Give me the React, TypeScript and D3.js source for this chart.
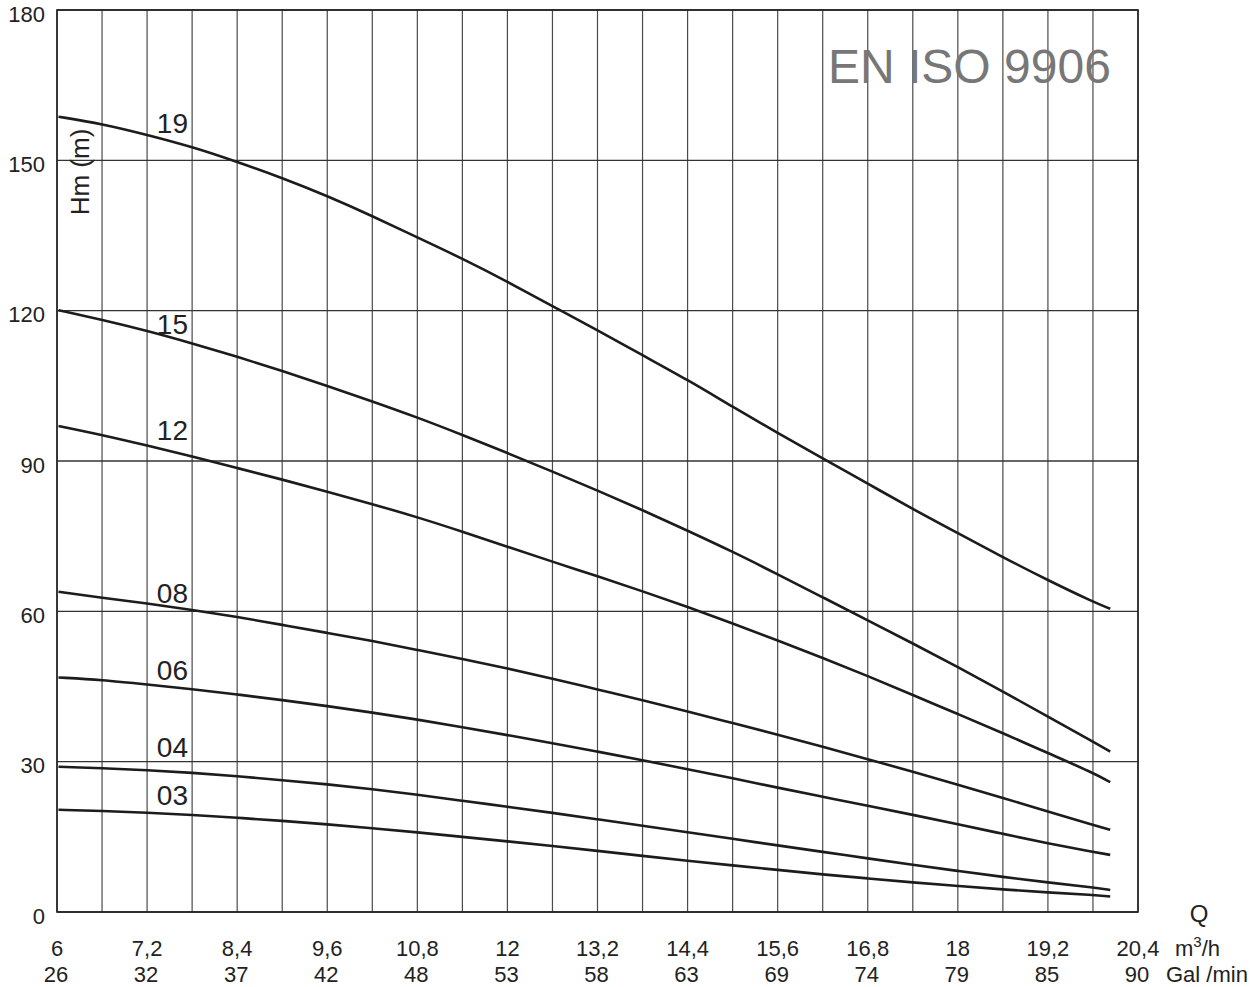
import React from 'react'
import * as d3 from 'd3'

// flow points (m3/h) at which the curves were read
const flow = [6.02, 6.6, 7.2, 7.8, 8.4, 9, 9.6, 10.2, 10.8, 11.4, 12, 12.6, 13.2, 13.8, 14.4, 15, 15.6, 16.2, 16.8, 17.4, 18, 18.6, 19.2, 19.8, 20.03]

const h19 = [158.7, 157.3, 155.1, 152.7, 149.7, 146.5, 142.9, 138.9, 134.6, 130.4, 125.8, 120.9, 116.1, 111.1, 106.2, 100.8, 95.6, 90.5, 85.5, 80.4, 75.6, 70.8, 66.2, 61.9, 60.5]
const h15 = [120.1, 118.2, 116, 113.5, 110.8, 108, 105, 101.9, 98.7, 95.2, 91.6, 87.9, 84.1, 80.2, 76.1, 71.9, 67.4, 62.8, 58.2, 53.6, 48.9, 44, 39, 34, 32]
const h12 = [97, 95.2, 93.1, 90.9, 88.6, 86.3, 83.9, 81.4, 78.8, 75.9, 72.9, 69.9, 67, 64, 60.9, 57.6, 54.2, 50.7, 47.1, 43.3, 39.5, 35.7, 31.7, 27.8, 25.9]
const h08 = [63.9, 62.7, 61.6, 60.3, 58.9, 57.3, 55.7, 54.1, 52.3, 50.5, 48.6, 46.6, 44.4, 42.3, 40, 37.7, 35.4, 33, 30.5, 28, 25.4, 22.8, 20, 17.4, 16.4]
const h06 = [46.8, 46.3, 45.4, 44.5, 43.4, 42.3, 41.1, 39.8, 38.4, 36.9, 35.3, 33.7, 32, 30.3, 28.5, 26.7, 24.8, 23, 21.2, 19.4, 17.5, 15.6, 13.7, 12, 11.4]
const h04 = [29, 28.7, 28.3, 27.8, 27.1, 26.3, 25.5, 24.5, 23.4, 22.2, 21, 19.8, 18.5, 17.2, 15.9, 14.6, 13.3, 12, 10.7, 9.4, 8.2, 7, 5.9, 4.9, 4.4]
const h03 = [20.4, 20.2, 19.8, 19.4, 18.8, 18.2, 17.5, 16.7, 15.9, 15, 14.1, 13.2, 12.2, 11.2, 10.2, 9.3, 8.4, 7.5, 6.7, 5.9, 5.2, 4.5, 3.9, 3.4, 3.1]

const curveNames = ['19', '15', '12', '08', '06', '04', '03']
const curveHeads = [h19, h15, h12, h08, h06, h04, h03]
// head value at the label's baseline, label placed at Q = 7.33
const labelQ = 7.33
const labelH = [155.5, 115.3, 94.2, 61.7, 46.3, 30.9, 21.4]

const qTicks = [6, 7.2, 8.4, 9.6, 10.8, 12, 13.2, 14.4, 15.6, 16.8, 18, 19.2, 20.4]
const qLabels = ['6', '7,2', '8,4', '9,6', '10,8', '12', '13,2', '14,4', '15,6', '16,8', '18', '19,2', '20,4']
const galLabels = ['26', '32', '37', '42', '48', '53', '58', '63', '69', '74', '79', '85', '90']
const hTicks = [0, 30, 60, 90, 120, 150, 180]

const W = 1253
const H = 987
const font = 'Liberation Sans, Arial, sans-serif'

export default function App() {
  const x = d3.scaleLinear().domain([6, 20.4]).range([57, 1138])
  const y = d3.scaleLinear().domain([0, 180]).range([912, 10])
  const gridQ = d3.range(0, 25).map(k => 6 + 0.6 * k)

  const line = d3.line<[number, number]>()
    .x(d => x(d[0]))
    .y(d => y(d[1]))
    .curve(d3.curveBasis)

  return (
    <svg width={W} height={H} style={{ position: 'absolute', left: 0, top: 0, background: '#fff' }} fontFamily={font}>
      {/* vertical grid */}
      {gridQ.map((q, i) => (
        <line key={'v' + i} x1={x(q)} x2={x(q)} y1={y(180)} y2={y(0)} stroke="#4a4a4a" strokeWidth={1.2} />
      ))}
      {/* horizontal grid */}
      {hTicks.map(h => (
        <line key={'h' + h} x1={x(6)} x2={x(20.4)} y1={y(h)} y2={y(h)} stroke="#333" strokeWidth={1.3} />
      ))}
      <rect x={x(6)} y={y(180)} width={x(20.4) - x(6)} height={y(0) - y(180)} fill="none" stroke="#222" strokeWidth={1.6} />

      <text x={828} y={82.5} fontSize={48} fill="#777">EN ISO 9906</text>

      {curveHeads.map((hs, i) => (
        <path key={'c' + i} d={line(flow.map((q, j) => [q, hs[j]] as [number, number])) || ''} fill="none" stroke="#1c1c1c" strokeWidth={2.6} />
      ))}
      {curveNames.map((n, i) => (
        <text key={'l' + i} x={x(labelQ)} y={y(labelH[i])} fontSize={28} fill="#222">{n}</text>
      ))}

      {/* y axis labels */}
      {hTicks.map(h => (
        <text key={'yt' + h} x={45} y={y(h) + 11.5} fontSize={22} textAnchor="end" fill="#222">{h}</text>
      ))}
      <text transform="translate(89,172) rotate(-90)" fontSize={26} textAnchor="middle" fill="#222">Hm (m)</text>

      {/* x axis labels */}
      {qTicks.map((q, i) => (
        <text key={'xq' + i} x={x(q)} y={956} fontSize={22} textAnchor="middle" fill="#222">{qLabels[i]}</text>
      ))}
      {qTicks.map((q, i) => (
        <text key={'xg' + i} x={x(q) - 1} y={982} fontSize={22} textAnchor="middle" fill="#222">{galLabels[i]}</text>
      ))}
      <text x={1199} y={922} fontSize={24} textAnchor="middle" fill="#222">Q</text>
      <text x={1175} y={956} fontSize={22} fill="#222">m<tspan dy={-9} fontSize={15}>3</tspan><tspan dy={9}>/h</tspan></text>
      <text x={1166} y={982} fontSize={22} fill="#222">Gal /min</text>
    </svg>
  )
}
